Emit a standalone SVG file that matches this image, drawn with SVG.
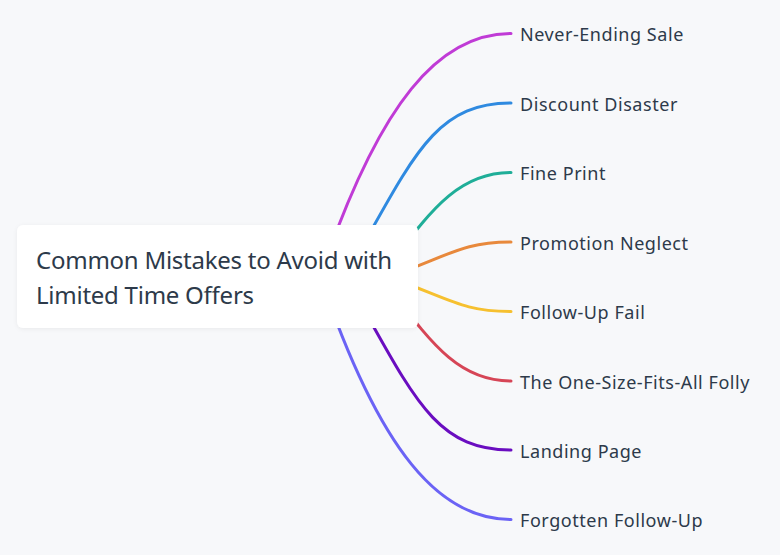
<svg xmlns="http://www.w3.org/2000/svg" width="780" height="555" viewBox="0 0 780 555">
<style>
.bg{fill:#f7f8fa}
.edge{fill:none;stroke-width:3;stroke-linecap:round}
.root{fill:#ffffff}
.rt{font-family:"Noto Sans","DejaVu Sans",sans-serif;font-size:24px;letter-spacing:-0.25px;fill:#2d3a4a}
.lt{font-family:"Noto Sans","DejaVu Sans",sans-serif;font-size:18px;letter-spacing:0.55px;fill:#2d3a4a}
</style>
<defs>
<filter id="sh" x="-10%" y="-20%" width="120%" height="140%">
<feDropShadow dx="0" dy="1" stdDeviation="2" flood-color="#000" flood-opacity="0.06"/>
</filter>
</defs>
<rect class="bg" x="0" y="0" width="780" height="555"/>
<g id="connectors">
<path class="edge" stroke="#c03bd6" d="M320,277 C380,100 440,33.5 511,33.5"/>
<path class="edge" stroke="#2f8ae0" d="M345,277 C412,160 432,103 511,103"/>
<path class="edge" stroke="#1fae98" d="M392,262 C434,205 462,172.5 511,172.5"/>
<path class="edge" stroke="#e8893c" d="M380,280 C450,256 460,242 511,242"/>
<path class="edge" stroke="#f6c02f" d="M380,274 C450,298 460,311.5 511,311.5"/>
<path class="edge" stroke="#d64556" d="M392,291 C434,348 462,381 511,381"/>
<path class="edge" stroke="#6a0dc0" d="M345,276 C412,393 432,450 511,450"/>
<path class="edge" stroke="#6b63f5" d="M320,276 C380,453 440,519.5 511,519.5"/>
</g>
<g id="root">
<rect class="root" x="17" y="225" width="401" height="103" rx="6" filter="url(#sh)"/>
<text class="rt" x="36" y="269">Common Mistakes to Avoid with</text>
<text class="rt" x="36" y="303.5">Limited Time Offers</text>
</g>
<g id="n1"><text class="lt" x="520" y="41">Never-Ending Sale</text></g>
<g id="n2"><text class="lt" x="520" y="110.5">Discount Disaster</text></g>
<g id="n3"><text class="lt" x="520" y="180">Fine Print</text></g>
<g id="n4"><text class="lt" x="520" y="249.5">Promotion Neglect</text></g>
<g id="n5"><text class="lt" x="520" y="319">Follow-Up Fail</text></g>
<g id="n6"><text class="lt" x="520" y="388.5">The One-Size-Fits-All Folly</text></g>
<g id="n7"><text class="lt" x="520" y="458">Landing Page</text></g>
<g id="n8"><text class="lt" x="520" y="527">Forgotten Follow-Up</text></g>
</svg>
